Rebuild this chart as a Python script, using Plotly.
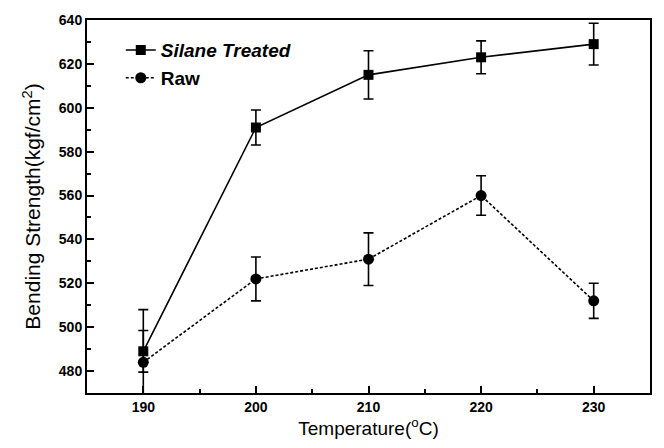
import plotly.graph_objects as go

temperature = [190, 200, 210, 220, 230]
silane_values = [489, 591, 615, 623, 629]
silane_err = [9.5, 8, 11, 7.5, 9.5]
raw_values = [484, 522, 531, 560, 512]
raw_err = [24, 10, 12, 9, 8]

x_ticks = [190, 200, 210, 220, 230]
y_ticks = [480, 500, 520, 540, 560, 580, 600, 620, 640]

font_family = "Liberation Sans, Arial, sans-serif"

fig = go.Figure()
fig.add_trace(go.Scatter(
    x=temperature, y=silane_values, name="<i>Silane Treated</i>",
    mode="lines+markers",
    line=dict(color="black", width=1.6, dash="solid"),
    marker=dict(symbol="square", size=10, color="black"),
    error_y=dict(type="data", array=silane_err, visible=True, color="black", thickness=1.6, width=5),
))
fig.add_trace(go.Scatter(
    x=temperature, y=raw_values, name="Raw",
    mode="lines+markers",
    line=dict(color="black", width=1.6, dash="3px,2px"),
    marker=dict(symbol="circle", size=11, color="black"),
    error_y=dict(type="data", array=raw_err, visible=True, color="black", thickness=1.6, width=5),
))

fig.update_layout(
    width=664, height=448,
    margin=dict(l=87, r=13, t=14, b=53),
    paper_bgcolor="white", plot_bgcolor="white",
    font=dict(family=font_family, color="black"),
    showlegend=True,
    legend=dict(
        x=0.06, y=0.97, xanchor="left", yanchor="top",
        bgcolor="rgba(0,0,0,0)",
        font=dict(size=19, family=font_family, color="black", weight="bold"),
        tracegroupgap=0,
    ),
)
fig.update_xaxes(
    range=[185, 235], tickvals=x_ticks, ticktext=[str(v) for v in x_ticks],
    ticks="inside", ticklen=7, tickwidth=1.5, tickcolor="black",
    minor=dict(ticks="inside", ticklen=4, dtick=5, tick0=185, tickcolor="black"),
    showline=True, linecolor="black", linewidth=2, mirror=True,
    showgrid=False, zeroline=False,
    tickfont=dict(size=14, family=font_family, weight="bold"),
    title=dict(text="Temperature(<sup>o</sup>C)",
               font=dict(size=19, family=font_family), standoff=8),
)
fig.update_yaxes(
    range=[470, 640], tickvals=y_ticks, ticktext=[str(v) for v in y_ticks],
    ticks="inside", ticklen=7, tickwidth=1.5, tickcolor="black",
    minor=dict(ticks="inside", ticklen=4, dtick=10, tick0=470, tickcolor="black"),
    showline=True, linecolor="black", linewidth=2, mirror=True,
    showgrid=False, zeroline=False,
    tickfont=dict(size=14, family=font_family, weight="bold"),
    title=dict(text="Bending Strength(kgf/cm<sup>2</sup>)",
               font=dict(size=21, family=font_family), standoff=12),
)

fig.write_html("out.html")
